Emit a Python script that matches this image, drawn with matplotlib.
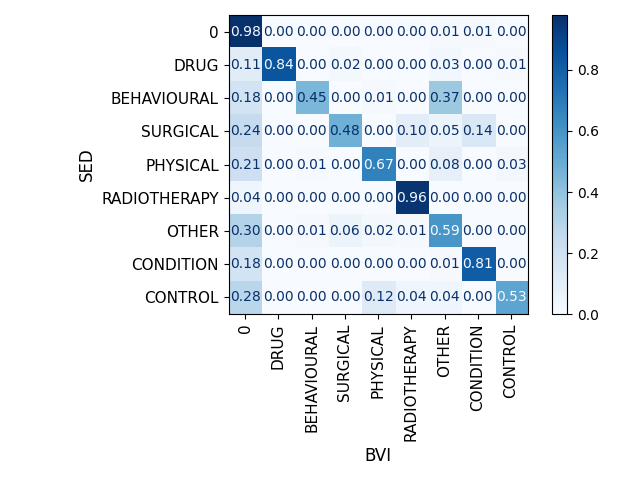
import matplotlib
matplotlib.use("Agg")
import matplotlib.pyplot as plt
import numpy as np

labels = ["0", "DRUG", "BEHAVIOURAL", "SURGICAL", "PHYSICAL", "RADIOTHERAPY", "OTHER", "CONDITION", "CONTROL"]
row_0 = [0.98, 0.00, 0.00, 0.00, 0.00, 0.00, 0.01, 0.01, 0.00]
row_drug = [0.11, 0.84, 0.00, 0.02, 0.00, 0.00, 0.03, 0.00, 0.01]
row_beh = [0.18, 0.00, 0.45, 0.00, 0.01, 0.00, 0.37, 0.00, 0.00]
row_surg = [0.24, 0.00, 0.00, 0.48, 0.00, 0.10, 0.05, 0.14, 0.00]
row_phys = [0.21, 0.00, 0.01, 0.00, 0.67, 0.00, 0.08, 0.00, 0.03]
row_radio = [0.04, 0.00, 0.00, 0.00, 0.00, 0.96, 0.00, 0.00, 0.00]
row_other = [0.30, 0.00, 0.01, 0.06, 0.02, 0.01, 0.59, 0.00, 0.00]
row_cond = [0.18, 0.00, 0.00, 0.00, 0.00, 0.00, 0.01, 0.81, 0.00]
row_ctrl = [0.28, 0.00, 0.00, 0.00, 0.12, 0.04, 0.04, 0.00, 0.53]

cm = np.array([row_0, row_drug, row_beh, row_surg, row_phys, row_radio, row_other, row_cond, row_ctrl])

fig, ax = plt.subplots(figsize=(6.4, 4.8), dpi=100)
cmap = plt.get_cmap("Blues")
im = ax.imshow(cm, interpolation="nearest", cmap=cmap)
thresh = (cm.max() + cm.min()) / 2.0
for i in range(cm.shape[0]):
    for j in range(cm.shape[1]):
        color = cmap(0) if cm[i, j] > thresh else cmap(1.0)
        ax.text(j, i, f"{cm[i, j]:.2f}", ha="center", va="center", color=color, fontsize=10)
fig.colorbar(im, ax=ax)
ax.set_xticks(range(len(labels)))
ax.set_xticklabels(labels, rotation=90, fontsize=11)
ax.set_yticks(range(len(labels)))
ax.set_yticklabels(labels, fontsize=11)
ax.set_xlabel("BVI", fontsize=12)
ax.set_ylabel("SED", fontsize=12)
fig.tight_layout()
fig.savefig("out.png", dpi=100)
